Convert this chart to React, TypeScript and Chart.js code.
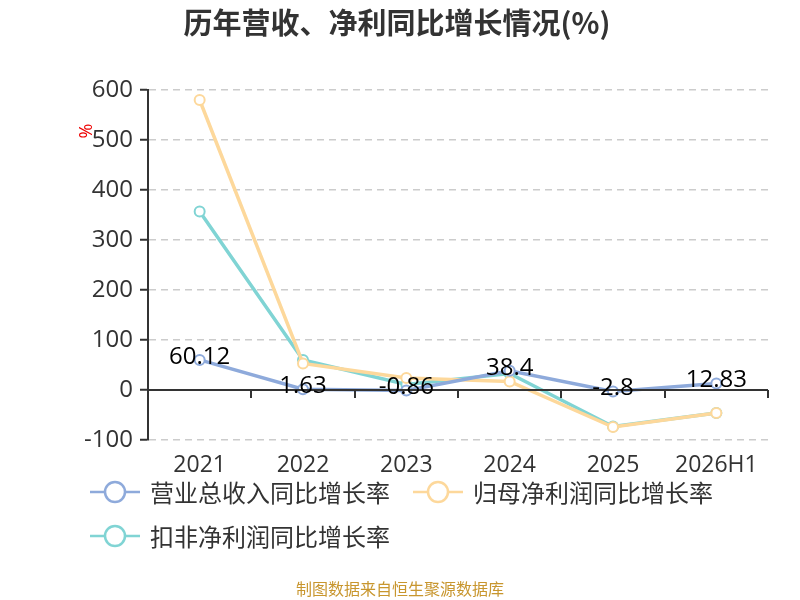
// @ts-nocheck
import {useEffect, useRef} from "react";
import {Chart, registerables} from 'chart.js';

Chart.register(...registerables);

const years = ['2021', '2022', '2023', '2024', '2025', '2026H1'];
const revenueGrowth = [60.12, 1.63, -0.86, 38.4, -2.8, 12.83];
const netProfitGrowth = [580, 53, 24, 17, -74, -46];
const deductedProfitGrowth = [357, 60, 11, 33, -73, -46];
const seriesNames = ['营业总收入同比增长率', '归母净利润同比增长率', '扣非净利润同比增长率'];
const seriesColors = ['#8eaadb', '#fdd89b', '#80d4d4'];

const FONT = '"Noto Sans CJK SC", "Noto Sans", sans-serif';
const NUM_FONT = '"Open Sans", "Noto Sans CJK SC", sans-serif';

// title, legend, % mark, zero axis line and value labels drawn on the canvas
const decorations = {
    id: 'decorations',
    afterDatasetsDraw(chart) {
        const {ctx, chartArea, scales} = chart;
        const y0 = scales.y.getPixelForValue(0);
        ctx.save();
        // zero axis line with ticks between categories
        ctx.strokeStyle = '#333';
        ctx.lineWidth = 2;
        ctx.beginPath();
        ctx.moveTo(chartArea.left, y0);
        ctx.lineTo(chartArea.right, y0);
        ctx.stroke();
        const step = (chartArea.right - chartArea.left) / years.length;
        for (let i = 1; i <= years.length; i++) {
            const x = Math.round(chartArea.left + step * i);
            ctx.beginPath();
            ctx.moveTo(x, y0);
            ctx.lineTo(x, y0 + 8);
            ctx.stroke();
        }
        ctx.restore();

        // revenue value labels on top
        ctx.save();
        ctx.font = '24px ' + NUM_FONT;
        ctx.fillStyle = '#000';
        ctx.textAlign = 'center';
        ctx.textBaseline = 'middle';
        chart.getDatasetMeta(0).data.forEach((pt, i) => {
            ctx.fillText(String(revenueGrowth[i]), pt.x, pt.y - 3);
        });
        ctx.restore();
    },
    afterDraw(chart) {
        const {ctx} = chart;
        ctx.save();
        // title
        ctx.font = 'bold 29px ' + FONT;
        ctx.fillStyle = '#333';
        ctx.textAlign = 'center';
        ctx.textBaseline = 'middle';
        ctx.fillText('历年营收、净利同比增长情况(%)', 397, 23);

        // red % unit
        ctx.save();
        ctx.translate(87, 131);
        ctx.rotate(-Math.PI / 2);
        ctx.font = '18px ' + NUM_FONT;
        ctx.fillStyle = '#e00';
        ctx.fillText('%', 0, 0);
        ctx.restore();

        // legend
        const items = [
            {x: 90, y: 492},
            {x: 413, y: 492},
            {x: 90, y: 536},
        ];
        items.forEach((it, i) => {
            ctx.strokeStyle = seriesColors[i];
            ctx.lineWidth = 2.5;
            ctx.beginPath();
            ctx.moveTo(it.x, it.y);
            ctx.lineTo(it.x + 50, it.y);
            ctx.stroke();
            ctx.beginPath();
            ctx.arc(it.x + 25, it.y, 10, 0, Math.PI * 2);
            ctx.fillStyle = '#fff';
            ctx.fill();
            ctx.stroke();
            ctx.font = '24px ' + FONT;
            ctx.fillStyle = '#333';
            ctx.textAlign = 'left';
            ctx.fillText(seriesNames[i], it.x + 60, it.y + 1);
        });

        // source note
        ctx.font = '16px ' + FONT;
        ctx.fillStyle = '#c8962e';
        ctx.textAlign = 'center';
        ctx.fillText('制图数据来自恒生聚源数据库', 400, 589);
        ctx.restore();
    },
};

export default function App() {
    const chartRef = useRef(null);

    useEffect(() => {
        const ctx = chartRef.current.getContext('2d');
        const makeSet = (label, data, color) => ({
            label,
            data,
            borderColor: color,
            backgroundColor: '#fff',
            borderWidth: 3.5,
            pointRadius: 5,
            pointBorderWidth: 2,
            pointBackgroundColor: '#fff',
            pointBorderColor: color,
            tension: 0,
        });
        const chart = new Chart(ctx, {
            type: 'line',
            data: {
                labels: years,
                datasets: [
                    makeSet(seriesNames[0], revenueGrowth, seriesColors[0]),
                    makeSet(seriesNames[1], netProfitGrowth, seriesColors[1]),
                    makeSet(seriesNames[2], deductedProfitGrowth, seriesColors[2]),
                ],
            },
            options: {
                responsive: false,
                animation: false,
                layout: {padding: {top: 90, left: 0, right: 32, bottom: 0}},
                plugins: {
                    legend: {display: false},
                    title: {display: false},
                    tooltip: {enabled: false},
                },
                scales: {
                    x: {
                        offset: true,
                        grid: {display: false},
                        border: {display: false},
                        ticks: {
                            color: '#333',
                            font: {size: 23, family: NUM_FONT},
                            padding: 4,
                            maxRotation: 0,
                            autoSkip: false,
                        },
                        afterFit: (scale) => { scale.height = 160; },
                    },
                    y: {
                        min: -100,
                        max: 600,
                        ticks: {
                            stepSize: 100,
                            color: '#333',
                            font: {size: 24, family: NUM_FONT},
                            padding: 7,
                        },
                        grid: {
                            color: '#cccccc',
                            lineWidth: 1.5,
                            tickColor: '#333',
                            tickLength: 8,
                            tickWidth: 2,
                        },
                        border: {display: true, color: '#333', width: 2, dash: [7, 5]},
                        afterFit: (scale) => { scale.width = 148; },
                    },
                },
            },
            plugins: [decorations],
        });
        return () => {
            chart.destroy();
        };
    }, []);

    return (
        <div style={{position: 'fixed', left: 0, top: 0, width: 800, height: 600, background: '#fff'}}>
            <canvas ref={chartRef} width={800} height={600}/>
        </div>
    );
}
